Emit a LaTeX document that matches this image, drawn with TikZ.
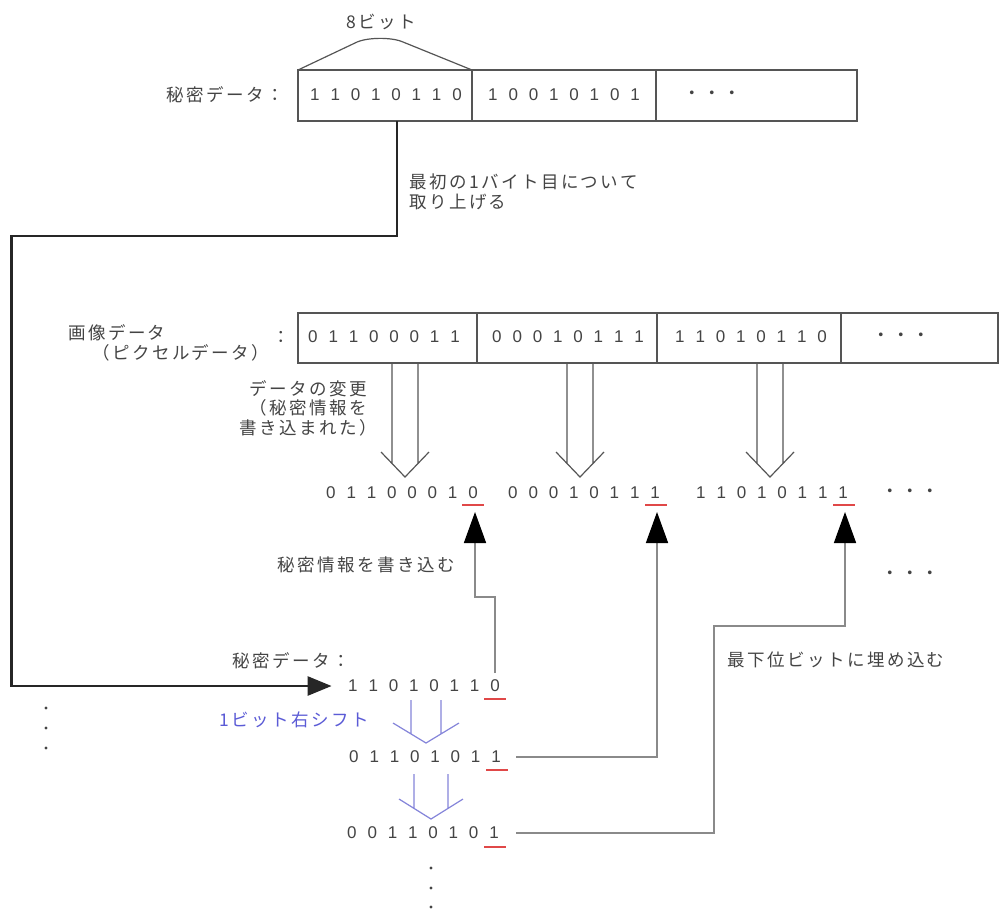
\documentclass[tikz,border=0pt]{standalone}
\usepackage{fontspec}
\setmainfont{Liberation Sans}
\newfontfamily\jp[LetterSpace=14]{Noto Sans CJK JP}
\usetikzlibrary{arrows.meta,calc}
\definecolor{txt}{HTML}{444444}
\definecolor{boxc}{HTML}{555555}
\definecolor{conn}{HTML}{8A8A8A}
\definecolor{blu}{HTML}{5B5BD6}
\definecolor{bluar}{HTML}{8585DA}
\definecolor{redu}{HTML}{E04848}
\newcommand\jpf{\jp\fontsize{17.5}{19.5}\selectfont}
\newcommand\bitf{\fontsize{17}{19}\selectfont}
\makeatletter
\newcommand\bitstr[1]{\@tfor\bitch:=#1\do{\makebox[20.3pt]{\bitch}}}
\makeatother
% hollow arrow: [colour]{cx}{top}{stem half gap}{arm half width}{arm start y}{tip y}
\newcommand\hollowar[7][boxc]{%
  \pgfmathsetmacro\stemend{#6+(#5-#4)/#5*(#7-#6)}%
  \draw[#1, line width=1.2pt, line join=miter]
    (#2-#4,#3) -- (#2-#4,\stemend) (#2+#4,#3) -- (#2+#4,\stemend)
    (#2-#5,#6) -- (#2,#7) -- (#2+#5,#6);
}
\begin{document}
\begin{tikzpicture}[x=1pt,y=-1pt,
  lbl/.style={font=\jpf, text=txt, inner sep=0pt},
  bitsn/.style={font=\bitf, text=txt, inner sep=0pt},
  cell/.style={draw=boxc, line width=1.2pt, inner sep=0pt, outer sep=0pt},
  mainline/.style={draw=black!85, line width=2.6pt},
  conline/.style={draw=conn, line width=1.6pt},
  uline/.style={draw=redu, line width=2.4pt},
  uparrow/.style={-{Triangle[length=31pt,width=22pt,black]}},
  vdot/.style={fill=txt, circle, inner sep=0pt, minimum size=3.2pt}]
\fill[white] (0,0) rectangle (1000,911);
\useasboundingbox (0,0) rectangle (1000,911);

% ---- top: secret data
\node[lbl, anchor=east] (lab1) at (284,95) {秘密データ：};
\node[cell, minimum width=174pt, minimum height=51pt] (c1) at (385,95.5) {};
\node[cell, minimum width=184pt, minimum height=51pt] (c2) at (564,95.5) {};
\node[cell, minimum width=201pt, minimum height=51pt] (c3) at (756.5,95.5) {};
\node[bitsn] (t1) at (386,95) {\bitstr{11010110}};
\node[bitsn] (t2) at (564,95) {\bitstr{10010101}};
\node[lbl] (t3) at (712,95) {・・・};
\draw[boxc, line width=1.2pt] (c1.north west) -- (355,43) .. controls (366,37) and (392,37) .. (403,42) -- (c1.north east);
\node[lbl] (lab8) at (381,22) {8ビット};

\node[lbl, anchor=west, align=left] (lab2) at (409,192) {最初の1バイト目について\\取り上げる};

% ---- image data box
\node[lbl, anchor=west, align=left] (lab3) at (68,343) {画像データ\\\hspace*{24pt}（ピクセルデータ）};
\node[lbl] (colon) at (281,337) {：};
\node[cell, minimum width=179pt, minimum height=50pt] (d1) at (387.5,338) {};
\node[cell, minimum width=180pt, minimum height=50pt] (d2) at (567,338) {};
\node[cell, minimum width=184pt, minimum height=50pt] (d3) at (749,338) {};
\node[cell, minimum width=157pt, minimum height=50pt] (d4) at (919.5,338) {};
\node[bitsn] (b1) at (384,337) {\bitstr{01100011}};
\node[bitsn] (b2) at (568,337) {\bitstr{00010111}};
\node[bitsn] (b3) at (751,337) {\bitstr{11010110}};
\node[lbl] (b4) at (901,337) {・・・};

\node[lbl, align=center] (lab4) at (308,408) {データの変更\\（秘密情報を\\書き込まれた）};

% hollow arrows
\hollowar{405}{363}{13}{24}{452}{477}
\hollowar{580}{363}{13}{24}{452}{477}
\hollowar{770}{363}{13}{24}{452}{477}

% ---- modified row
\node[bitsn] (r1) at (402,493) {\bitstr{01100010}};
\node[bitsn] (r2) at (584,493) {\bitstr{00010111}};
\node[bitsn] (r3) at (772,493) {\bitstr{11010111}};
\node[lbl] (rd1) at (910,493) {・・・};
\node[lbl] (rd2) at (910,575) {・・・};
\draw[uline] (462,505) -- (484,505);
\draw[uline] (645,505) -- (667,505);
\draw[uline] (833,505) -- (855,505);
\coordinate (u1) at (475,512);
\coordinate (u2) at (657,512);
\coordinate (u3) at (845,512);

\node[lbl] (lab5) at (366,565) {秘密情報を書き込む};
\node[lbl] (lab6) at (836,660) {最下位ビットに埋め込む};

% ---- secret data shifts
\node[lbl] (lab7) at (291,661) {秘密データ：};
\node[bitsn] (s0) at (424,686) {\bitstr{11010110}};
\node[bitsn] (s1) at (425,757) {\bitstr{01101011}};
\node[bitsn] (s2) at (423,833) {\bitstr{00110101}};
\draw[uline] (484,699) -- (506,699);
\draw[uline] (486,770) -- (508,770);
\draw[uline] (484,847) -- (506,847);
\node[lbl, text=blu] (lab9) at (294,720) {1ビット右シフト};
\hollowar[bluar]{426}{700}{15}{33}{723}{743}
\hollowar[bluar]{431}{774}{17}{32}{799}{819}

% connectors
\coordinate (p1) at (495,673);
\draw[mainline, -{Triangle[length=24pt,width=19pt]}] ([xshift=12pt]c1.south) -- ++(0,115) -| (11.5,686) -- ([xshift=-11pt]s0.west);
\draw[conline, uparrow] (p1) -- ++(0,-76) -| (u1);
\draw[conline, uparrow] ([xshift=10pt]s1.east) -| (u2);
\draw[conline, uparrow] ([xshift=12pt]s2.east) -| (714,626) -| (u3);

% vertical dots
\node[vdot] (ld1) at (46,708) {};
\node[vdot] (ld2) at (46,728) {};
\node[vdot] (ld3) at (46,748) {};
\node[vdot] (bd1) at (431,868) {};
\node[vdot] (bd2) at (431,888) {};
\node[vdot] (bd3) at (431,907) {};
\end{tikzpicture}
\end{document}
